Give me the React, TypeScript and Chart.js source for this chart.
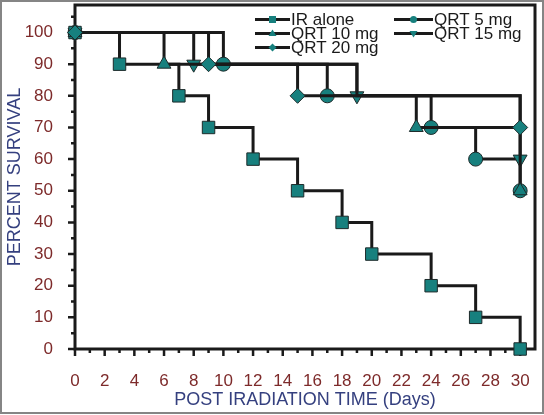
import React, { useEffect, useRef } from "react";
import { Chart, registerables } from "chart.js";

Chart.register(...registerables);

// ---- data ----
const seriesNames = ["IR alone", "QRT 5 mg", "QRT 10 mg", "QRT 15 mg", "QRT 20 mg"];

const daysIR = [0, 3, 7, 9, 12, 15, 18, 20, 24, 27, 30];
const survIR = [100, 90, 80, 70, 60, 50, 40, 30, 20, 10, 0];

const days5 = [0, 10, 17, 24, 27, 30];
const surv5 = [100, 90, 80, 70, 60, 50];

const days10 = [0, 6, 19, 23, 30];
const surv10 = [100, 90, 80, 70, 50];
const hidden10 = [false, false, true, false, false];

const days15 = [0, 8, 19, 30];
const surv15 = [100, 90, 80, 60];

const days20 = [0, 9, 15, 30];
const surv20 = [100, 90, 80, 70];

const xTickLabels = [0, 2, 4, 6, 8, 10, 12, 14, 16, 18, 20, 22, 24, 26, 28, 30];
const xMinorTicks = [1, 3, 5, 7, 9, 11, 13, 15, 17, 19, 21, 23, 25, 27, 29];
const yTickLabels = [0, 10, 20, 30, 40, 50, 60, 70, 80, 90, 100];
const yMinorTicks = [5, 15, 25, 35, 45, 55, 65, 75, 85, 95, 105];

const xTitle = "POST IRADIATION TIME (Days)";
const yTitle = "PERCENT SURVIVAL";

// ---- styles ----
const TEAL = "#17807e";
const EDGE = "#1d2a2a";
const LINE = "#1a1a1a";
const TICK_COLOR = "#7d2a2a";
const TITLE_COLOR = "#35407f";
const FONT = "'Liberation Sans', Arial, sans-serif";

type Style = { style: string; radius: number; rotation: number };
const styles: Style[] = [
  { style: "rect", radius: 8.8, rotation: 0 },
  { style: "circle", radius: 7, rotation: 0 },
  { style: "triangle", radius: 8, rotation: 0 },
  { style: "triangle", radius: 8, rotation: 180 },
  { style: "rectRot", radius: 7.5, rotation: 0 },
];

function miniMarker(ctx: CanvasRenderingContext2D, kind: number, x: number, y: number) {
  ctx.save();
  ctx.fillStyle = TEAL;
  ctx.beginPath();
  const r = 4;
  if (kind === 0) {
    ctx.rect(x - 3.5, y - 3.5, 7, 7);
  } else if (kind === 1) {
    ctx.arc(x, y, 3.5, 0, Math.PI * 2);
  } else if (kind === 2) {
    ctx.moveTo(x, y - r);
    ctx.lineTo(x + r, y + r * 0.6);
    ctx.lineTo(x - r, y + r * 0.6);
    ctx.closePath();
  } else if (kind === 3) {
    ctx.moveTo(x, y + r);
    ctx.lineTo(x + r, y - r * 0.6);
    ctx.lineTo(x - r, y - r * 0.6);
    ctx.closePath();
  } else {
    ctx.moveTo(x, y - r);
    ctx.lineTo(x + r, y);
    ctx.lineTo(x, y + r);
    ctx.lineTo(x - r, y);
    ctx.closePath();
  }
  ctx.fill();
  ctx.restore();
}

const framePlugin = {
  id: "frameTicks",
  beforeDatasetsDraw(chart: any) {
    const ctx: CanvasRenderingContext2D = chart.ctx;
    const { left, right, top, bottom } = chart.chartArea;
    const xs = chart.scales.x;
    const ys = chart.scales.y;
    ctx.save();
    ctx.strokeStyle = LINE;
    ctx.lineCap = "butt";
    ctx.lineWidth = 2.5;
    ctx.beginPath();
    yTickLabels.forEach((v) => {
      const y = ys.getPixelForValue(v);
      ctx.moveTo(left - 7, y);
      ctx.lineTo(left, y);
    });
    yMinorTicks.forEach((v) => {
      const y = ys.getPixelForValue(v);
      ctx.moveTo(left - 4, y);
      ctx.lineTo(left, y);
    });
    xTickLabels.forEach((v) => {
      const x = xs.getPixelForValue(v);
      ctx.moveTo(x, bottom);
      ctx.lineTo(x, bottom + 7);
    });
    xMinorTicks.forEach((v) => {
      const x = xs.getPixelForValue(v);
      ctx.moveTo(x, bottom);
      ctx.lineTo(x, bottom + 4);
    });
    ctx.stroke();
    ctx.lineWidth = 3;
    ctx.strokeRect(left, top, right - left, bottom - top);
    ctx.strokeStyle = "#858585";
    ctx.lineWidth = 2;
    ctx.strokeRect(1, 1, chart.width - 2, chart.height - 3);
    ctx.restore();
  },
  afterDraw(chart: any) {
    const ctx: CanvasRenderingContext2D = chart.ctx;
    const entries = [
      { idx: 0, x0: 255, x1: 290, tx: 291, y: 19.5 },
      { idx: 2, x0: 255, x1: 290, tx: 291, y: 33.5 },
      { idx: 4, x0: 255, x1: 290, tx: 291, y: 47.5 },
      { idx: 1, x0: 394, x1: 433, tx: 434, y: 19.5 },
      { idx: 3, x0: 394, x1: 433, tx: 434, y: 33.5 },
    ];
    ctx.save();
    ctx.font = `17px ${FONT}`;
    ctx.textBaseline = "middle";
    ctx.textAlign = "left";
    entries.forEach((e) => {
      ctx.strokeStyle = LINE;
      ctx.lineWidth = 3;
      ctx.beginPath();
      ctx.moveTo(e.x0, e.y);
      ctx.lineTo(e.x1, e.y);
      ctx.stroke();
      miniMarker(ctx, e.idx, (e.x0 + e.x1) / 2, e.y);
      ctx.fillStyle = "#1a1a1a";
      ctx.fillText(chart.data.datasets[e.idx].label, e.tx, e.y + 0.5);
    });
    ctx.restore();
  },
};

function makeSet(i: number, days: number[], surv: number[], order: number, hidden?: boolean[]) {
  const s = styles[i];
  return {
    label: seriesNames[i],
    data: days.map((d, j) => ({ x: d, y: surv[j] })),
    showLine: true,
    stepped: "before",
    borderColor: LINE,
    borderWidth: 3,
    borderJoinStyle: "miter",
    borderCapStyle: "butt",
    fill: false,
    pointStyle: s.style,
    pointRadius: hidden ? hidden.map((h) => (h ? 0 : s.radius)) : s.radius,
    pointRotation: s.rotation,
    pointBackgroundColor: TEAL,
    pointBorderColor: EDGE,
    pointBorderWidth: 1,
    clip: false,
    order,
  };
}

export default function App() {
  const ref = useRef<HTMLCanvasElement | null>(null);

  useEffect(() => {
    document.body.style.margin = "0";
    const canvas = ref.current;
    if (!canvas) return;
    const chart = new Chart(canvas, {
      type: "scatter",
      data: {
        datasets: [
          makeSet(0, daysIR, survIR, 2),
          makeSet(1, days5, surv5, 4),
          makeSet(2, days10, surv10, 1, hidden10),
          makeSet(3, days15, surv15, 3),
          makeSet(4, days20, surv20, 0),
        ] as any,
      },
      options: {
        responsive: false,
        animation: false,
        events: [],
        layout: { autoPadding: false, padding: { top: 5, right: 9, left: 0, bottom: 0 } },
        plugins: {
          legend: { display: false },
          tooltip: { enabled: false },
          title: { display: false },
        },
        scales: {
          x: {
            type: "linear",
            min: 0,
            max: 31,
            grid: { display: false },
            border: { display: false },
            afterBuildTicks: (s: any) => {
              s.ticks = xTickLabels.map((v) => ({ value: v }));
            },
            afterFit: (s: any) => {
              s.height = 66;
              s.paddingLeft = 0;
              s.paddingRight = 0;
              s.paddingTop = 0;
              s.paddingBottom = 0;
            },
            ticks: {
              color: TICK_COLOR,
              font: { family: FONT, size: 17 },
              padding: 14,
              maxRotation: 0,
              autoSkip: false,
            },
            title: {
              display: true,
              text: xTitle,
              color: TITLE_COLOR,
              font: { family: FONT, size: 18 },
              padding: { top: 0, bottom: 4 },
            },
          },
          y: {
            type: "linear",
            min: 0,
            max: 108.7,
            grid: { display: false },
            border: { display: false },
            afterBuildTicks: (s: any) => {
              s.ticks = yTickLabels.map((v) => ({ value: v }));
            },
            afterFit: (s: any) => {
              s.width = 75;
              s.paddingLeft = 0;
              s.paddingRight = 0;
              s.paddingTop = 0;
              s.paddingBottom = 0;
            },
            ticks: {
              color: TICK_COLOR,
              font: { family: FONT, size: 17 },
              padding: 14,
              autoSkip: false,
            },
            title: {
              display: true,
              text: yTitle,
              color: TITLE_COLOR,
              font: { family: FONT, size: 18 },
              padding: { top: 4, bottom: 0 },
            },
          },
        },
      } as any,
      plugins: [framePlugin],
    });
    return () => chart.destroy();
  }, []);

  return (
    <div style={{ width: 544, height: 415, background: "#fff" }}>
      <canvas ref={ref} width={544} height={415} style={{ display: "block" }} />
    </div>
  );
}
